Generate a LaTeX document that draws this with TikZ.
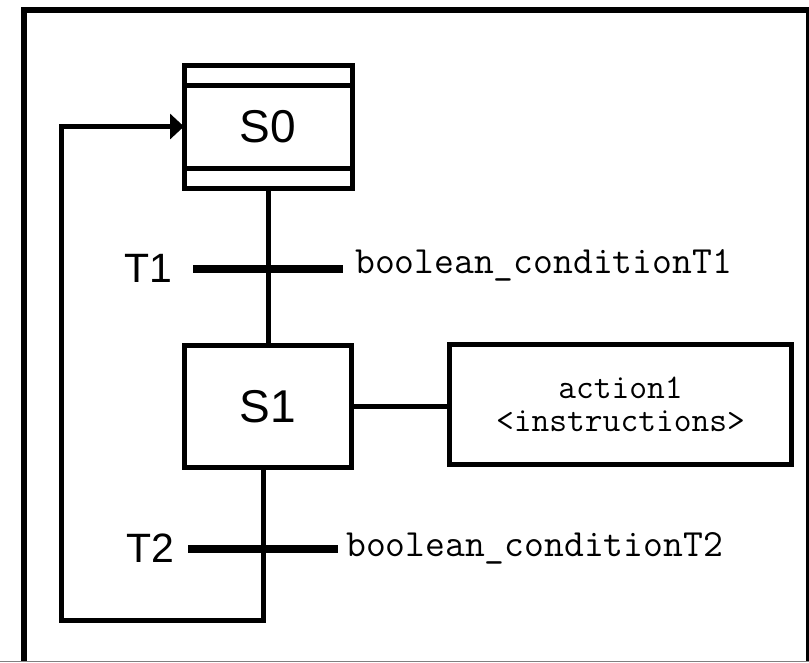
\documentclass[tikz,border=0pt]{standalone}
\usepackage{fontspec}
\setmainfont{Liberation Sans}
\usetikzlibrary{arrows.meta,positioning,calc}

\tikzset{
  stepbox/.style={draw,line width=5pt,outer sep=0pt,minimum width=167pt,
    minimum height=122pt,font=\fontsize{46}{46}\selectfont},
  actbox/.style={draw,line width=5pt,outer sep=0pt,minimum width=342pt,
    minimum height=120pt,align=center,font=\ttfamily\fontsize{34.5}{33}\selectfont},
  trbar/.style={line width=8pt},
  trlabel/.style={inner sep=0pt,font=\fontsize{41}{41}\selectfont},
  cond/.style={inner sep=0pt,anchor=base west,font=\ttfamily\fontsize{38.5}{38.5}\selectfont},
  link/.style={line width=5pt},
}

\begin{document}
\begin{tikzpicture}[x=1pt,y=-1pt,>={Triangle[length=14pt,width=25pt]}]
\useasboundingbox (0,0) rectangle (809,662);
% frame
\draw[line width=6.5pt] (24,661) |- (809.5,10) -- (809.5,661);
\draw[gray,line width=1.5pt] (0,661.5) -- (809,661.5);

% steps
\node[stepbox,minimum width=168pt,minimum height=123pt] (s0) at (268,126.5) {S0};
\draw[line width=5pt] ($(s0.north west)+(0,20)$) -- ($(s0.north east)+(0,20)$);
\draw[line width=5pt] ($(s0.south west)+(0,-20)$) -- ($(s0.south east)+(0,-20)$);
\node[stepbox] (s1) at (268,406.5) {S1};
\node[actbox] (act) at (620.5,404.5) {action1\\<instructions>};

% transitions
\coordinate (t1) at (268,269);
\coordinate (t2) at (263,549);
\coordinate (loop) at (61,620);
\draw[link] (s0.south) -- (s1.north);
\draw[link] (s1.east) -- (s1.east -| act.west);
\draw[trbar] ($(t1)+(-75,0)$) coordinate (t1w) -- ($(t1)+(75,0)$) coordinate (t1e);
\draw[trbar] ($(t2)+(-75,0)$) coordinate (t2w) -- ($(t2)+(75,0)$) coordinate (t2e);
\node[trlabel] (l1) at (148,268) {T1};
\node[trlabel] (l2) at (150,548) {T2};
\node[cond] (c1) at ($(t1e)+(12,4)$) {boolean\_conditionT1};
\node[cond] (c2) at ($(t2e)+(8,7)$) {boolean\_conditionT2};

% back to the initial step
\draw[link,->] (s1.south -| t2) |- (loop) |- (s0.west);
\end{tikzpicture}
\end{document}
